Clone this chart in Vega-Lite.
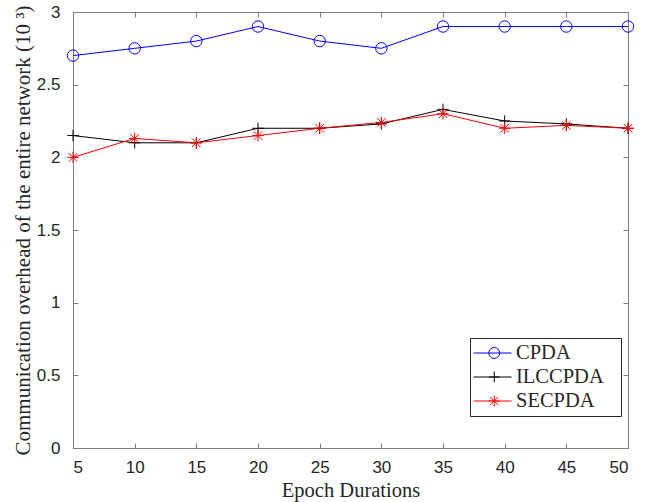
{
  "$schema": "https://vega.github.io/schema/vega-lite/v6.json",
  "width": 555,
  "height": 436,
  "autosize": {"type": "none"},
  "padding": {"left": 73, "top": 12, "right": 20, "bottom": 54},
  "background": "white",
  "config": {
    "view": {"stroke": "#7f7f7f", "strokeWidth": 1},
    "axis": {
      "domainColor": "#7f7f7f",
      "tickColor": "#7f7f7f",
      "tickSize": -5,
      "grid": false,
      "labelFont": "Liberation Sans",
      "labelFontSize": 17,
      "labelColor": "#262626",
      "titleFont": "Liberation Serif",
      "titleFontSize": 20.5,
      "titleFontWeight": "normal",
      "titleColor": "#262626"
    },
    "legend": {
      "labelFont": "Liberation Serif",
      "labelFontSize": 20.5,
      "labelColor": "#262626"
    }
  },
  "data": {
    "values": [
      {"epoch": 5, "series": "CPDA", "m": "CPDA", "value": 2.7},
      {"epoch": 10, "series": "CPDA", "m": "CPDA", "value": 2.75},
      {"epoch": 15, "series": "CPDA", "m": "CPDA", "value": 2.8},
      {"epoch": 20, "series": "CPDA", "m": "CPDA", "value": 2.9},
      {"epoch": 25, "series": "CPDA", "m": "CPDA", "value": 2.8},
      {"epoch": 30, "series": "CPDA", "m": "CPDA", "value": 2.75},
      {"epoch": 35, "series": "CPDA", "m": "CPDA", "value": 2.9},
      {"epoch": 40, "series": "CPDA", "m": "CPDA", "value": 2.9},
      {"epoch": 45, "series": "CPDA", "m": "CPDA", "value": 2.9},
      {"epoch": 50, "series": "CPDA", "m": "CPDA", "value": 2.9},
      {"epoch": 5, "series": "ILCCPDA", "m": "ILCCPDA", "value": 2.15},
      {"epoch": 10, "series": "ILCCPDA", "m": "ILCCPDA", "value": 2.1},
      {"epoch": 15, "series": "ILCCPDA", "m": "ILCCPDA", "value": 2.1},
      {"epoch": 20, "series": "ILCCPDA", "m": "ILCCPDA", "value": 2.2},
      {"epoch": 25, "series": "ILCCPDA", "m": "ILCCPDA", "value": 2.2},
      {"epoch": 30, "series": "ILCCPDA", "m": "ILCCPDA", "value": 2.23},
      {"epoch": 35, "series": "ILCCPDA", "m": "ILCCPDA", "value": 2.33},
      {"epoch": 40, "series": "ILCCPDA", "m": "ILCCPDA", "value": 2.25},
      {"epoch": 45, "series": "ILCCPDA", "m": "ILCCPDA", "value": 2.23},
      {"epoch": 50, "series": "ILCCPDA", "m": "ILCCPDA", "value": 2.2},
      {"epoch": 5, "series": "SECPDA", "m": "SECPDA", "value": 2.0},
      {"epoch": 10, "series": "SECPDA", "m": "SECPDA", "value": 2.13},
      {"epoch": 15, "series": "SECPDA", "m": "SECPDA", "value": 2.1},
      {"epoch": 20, "series": "SECPDA", "m": "SECPDA", "value": 2.15},
      {"epoch": 25, "series": "SECPDA", "m": "SECPDA", "value": 2.2},
      {"epoch": 30, "series": "SECPDA", "m": "SECPDA", "value": 2.24},
      {"epoch": 35, "series": "SECPDA", "m": "SECPDA", "value": 2.3},
      {"epoch": 40, "series": "SECPDA", "m": "SECPDA", "value": 2.2},
      {"epoch": 45, "series": "SECPDA", "m": "SECPDA", "value": 2.22},
      {"epoch": 50, "series": "SECPDA", "m": "SECPDA", "value": 2.2}
    ]
  },
  "resolve": {"axis": {"x": "independent", "y": "independent"}},
  "layer": [
    {
      "mark": {"type": "line", "strokeWidth": 1},
      "encoding": {
        "x": {
          "field": "epoch",
          "type": "quantitative",
          "scale": {"domain": [5, 50], "nice": false, "zero": false},
          "axis": {"orient": "bottom", "values": [5, 10, 15, 20, 25, 30, 35, 40, 45, 50], "title": "Epoch Durations", "labelPadding": 16, "titlePadding": 5}
        },
        "y": {
          "field": "value",
          "type": "quantitative",
          "scale": {"domain": [0, 3], "nice": false},
          "axis": {"orient": "left", "values": [0, 0.5, 1, 1.5, 2, 2.5, 3], "format": "~g", "title": "Communication overhead of the entire network (10 ³)", "labelPadding": 18, "titlePadding": 3, "titleFontSize": 21}
        },
        "color": {
          "field": "series",
          "type": "nominal",
          "scale": {"domain": ["CPDA", "ILCCPDA", "SECPDA"], "range": ["#0000ff", "#000000", "#ff0000"]},
          "legend": {
            "title": " ",
            "titleOrient": "right",
            "titleFontSize": 1,
            "titlePadding": 14,
            "orient": "none",
            "legendX": 397,
            "legendY": 326,
            "symbolType": "stroke",
            "symbolSize": 1444,
            "symbolStrokeWidth": 1,
            "strokeColor": "#262626",
            "fillColor": "white",
            "padding": 3,
            "rowPadding": 0,
            "clipHeight": 24,
            "labelOffset": 4
          }
        }
      }
    },
    {
      "mark": {"type": "point", "filled": false, "size": 130, "strokeWidth": 1, "opacity": 1},
      "encoding": {
        "x": {"field": "epoch", "type": "quantitative", "axis": null},
        "y": {"field": "value", "type": "quantitative", "axis": null},
        "stroke": {
          "field": "m",
          "type": "nominal",
          "scale": {"range": ["#0000ff", "#000000", "#ff0000"]},
          "legend": {
            "title": null,
            "orient": "none",
            "legendX": 408,
            "legendY": 326,
            "symbolSize": 120,
            "symbolStrokeWidth": 1,
            "symbolFillColor": "transparent",
            "padding": 3,
            "rowPadding": 0,
            "clipHeight": 24,
            "labelOffset": 4,
            "labelExpr": "''"
          }
        },
        "shape": {
          "field": "m",
          "type": "nominal",
          "scale": {"range": ["circle", "M-1,0H1M0,-1V1", "M-1,0H1M0,-1V1M-0.75,-0.75L0.75,0.75M-0.75,0.75L0.75,-0.75"]},
          "legend": {
            "title": null,
            "orient": "none",
            "legendX": 408,
            "legendY": 326,
            "symbolSize": 120,
            "symbolStrokeWidth": 1,
            "symbolFillColor": "transparent",
            "padding": 3,
            "rowPadding": 0,
            "clipHeight": 24,
            "labelOffset": 4,
            "labelExpr": "''"
          }
        }
      }
    },
    {
      "mark": {"type": "point", "opacity": 0},
      "encoding": {
        "x": {
          "field": "epoch",
          "type": "quantitative",
          "axis": {"orient": "top", "values": [5, 10, 15, 20, 25, 30, 35, 40, 45, 50], "labels": false, "title": null, "domain": false}
        },
        "y": {
          "field": "value",
          "type": "quantitative",
          "axis": {"orient": "right", "values": [0, 0.5, 1, 1.5, 2, 2.5, 3], "labels": false, "title": null, "domain": false}
        }
      }
    }
  ]
}
